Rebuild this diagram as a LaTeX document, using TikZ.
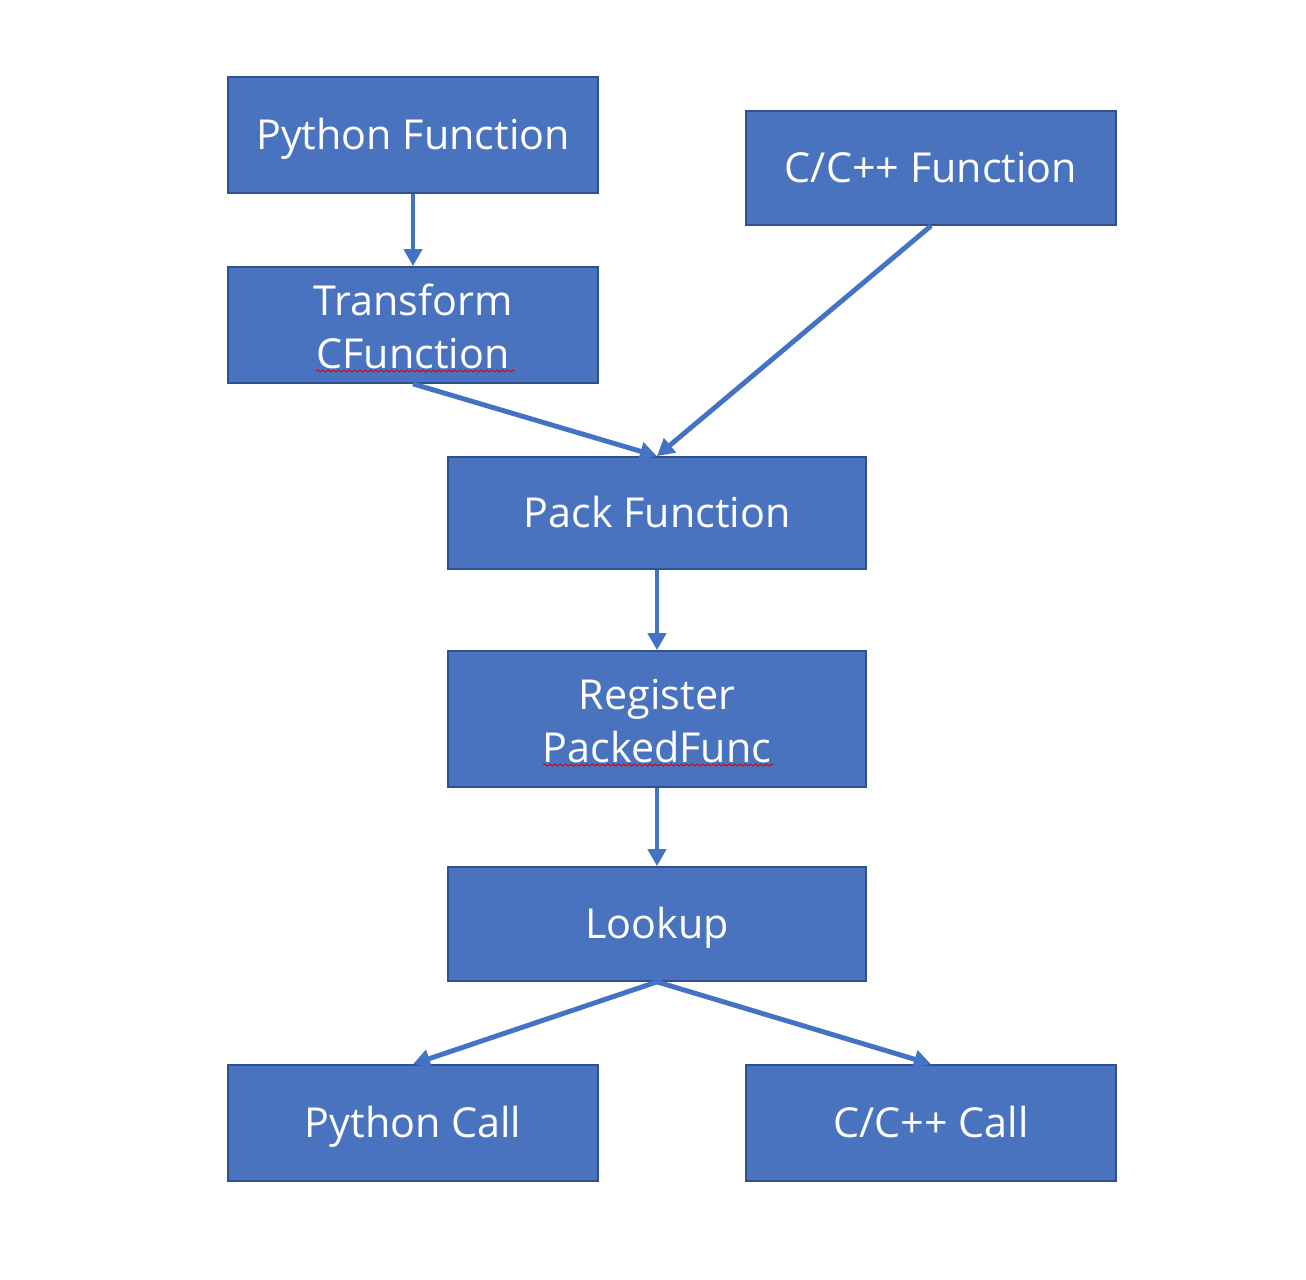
\documentclass[tikz,border=0pt]{standalone}
\usepackage{fontspec}
\setmainfont{Open Sans}
\usetikzlibrary{arrows.meta,decorations.pathmorphing}
\definecolor{boxfill}{HTML}{4A73BF}
\definecolor{boxline}{HTML}{2F528F}
\definecolor{flow}{HTML}{4472C4}
\newcommand{\boxstrut}{\rule[-0.3em]{0pt}{1.314em}}
\newcommand{\tallstrut}{\rule{0pt}{1.13em}}

\begin{document}
\begin{tikzpicture}[x=0.02cm,y=-0.02cm,font=\fontsize{23.5}{30.5}\selectfont,
  blk/.style={draw=boxline,line width=1pt,fill=boxfill,text=white,
              minimum width=7.4cm,minimum height=2.32cm,align=center,inner sep=0pt,
              execute at begin node=\boxstrut,execute at end node=\boxstrut},
  wide/.style={blk,minimum width=8.36cm},
  flowarrow/.style={draw=flow,line width=2.8pt,
                    -{Triangle[width=0.36cm,length=0.34cm]}},
  spell/.style={draw=red!85!black,line width=0.5pt,
                decorate,decoration={snake,amplitude=0.6pt,segment length=3pt}}]
\useasboundingbox (0,0) rectangle (1306,1280);

\node[blk] (pyfn)  at (413,135) {Python Function};
\node[blk,minimum height=2.28cm] (cfn) at (931,168) {C/C++ Function};
\node[blk] (trans) at (413,325) {\tallstrut Transform\\CFunction};
\node[wide,minimum height=2.24cm] (pack) at (657,513) {Pack Function};
\node[wide,minimum height=2.72cm] (reg) at (657,719) {\tallstrut Register\\PackedFunc};
\node[wide,minimum height=2.28cm] (look) at (657,924) {Lookup};
\node[blk] (pycall) at (413,1123) {Python Call};
\node[blk] (ccall)  at (931,1123) {C/C++ Call};

\draw[spell] (316,371) -- (515,371);
\draw[spell] (543,765) -- (773,765);

\draw[flowarrow] (pyfn.south) -- (trans.north);
\draw[flowarrow] (trans.south) -- (pack.north);
\draw[flowarrow] (cfn.south) -- (pack.north);
\draw[flowarrow] (pack.south) -- (reg.north);
\draw[flowarrow] (reg.south) -- (look.north);
\foreach \n in {pycall,ccall} \draw[flowarrow] (look.south) -- (\n.north);
\end{tikzpicture}
\end{document}
